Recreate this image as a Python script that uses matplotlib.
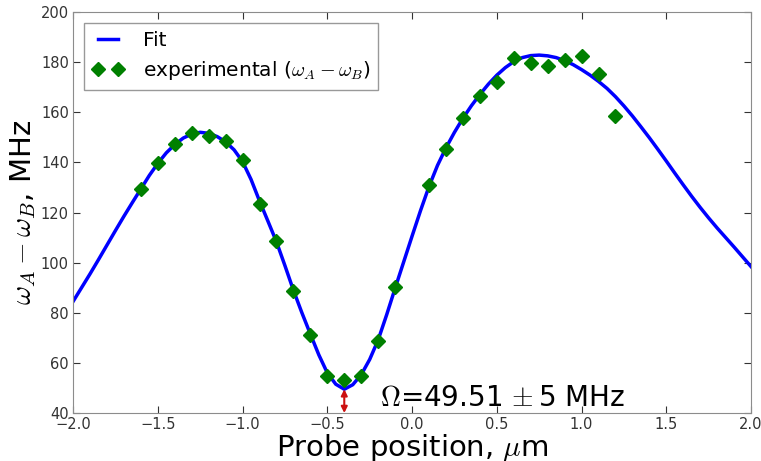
import numpy as np
import matplotlib
matplotlib.use("Agg")
import matplotlib.pyplot as plt

plt.rcParams["mathtext.fontset"] = "cm"
plt.rcParams["font.family"] = ["DejaVu Sans"]

# experimental points (probe position in um, omega_A - omega_B in MHz)
exp_x = [-1.6, -1.5, -1.4, -1.3, -1.2, -1.1, -1.0, -0.9, -0.8, -0.7, -0.6,
         -0.5, -0.4, -0.3, -0.2, -0.1, 0.1, 0.2, 0.3, 0.4, 0.5, 0.6, 0.7,
         0.8, 0.9, 1.0, 1.1, 1.2]
exp_y = [129.4, 139.9, 147.2, 151.6, 150.6, 148.4, 140.9, 123.4, 108.6, 88.8,
         71.1, 54.7, 53.2, 54.7, 68.8, 90.4, 131.0, 145.3, 157.8, 166.6,
         172.2, 181.5, 179.5, 178.3, 181.0, 182.6, 175.4, 158.6]

# fit curve, every 0.05 um
fit_x = np.round(np.linspace(-2.0, 2.0, 81), 2)
fit_y = [84.5, 90.0, 95.5, 101.2, 107.0, 112.8, 118.5, 124.0, 129.4, 134.8,
         139.6, 143.8, 147.1, 149.7, 151.3, 152.0, 151.6, 150.3, 148.2, 145.0,
         140.3, 133.2, 124.6, 116.5, 108.3, 98.8, 89.0, 80.0, 71.5, 63.2,
         56.0, 51.5, 49.5, 51.3, 55.3, 61.4, 69.2, 79.2, 89.8, 100.2,
         110.6, 120.8, 130.4, 138.8, 145.8, 152.0, 157.6, 162.6, 167.1, 171.2,
         174.8, 177.8, 180.2, 181.8, 182.6, 182.8, 182.5, 181.8, 180.6, 179.0,
         177.0, 174.8, 172.3, 169.5, 166.2, 162.5, 158.5, 154.2, 149.8, 145.2,
         140.5, 135.7, 131.0, 126.4, 122.0, 117.8, 113.8, 110.0, 106.2, 102.3,
         98.4]

omega_min = 49.51
min_pos = -0.4

fig = plt.figure(figsize=(7.61, 4.61), dpi=100)
ax = fig.add_axes([0.096, 0.104, 0.891, 0.870])

ax.plot(fit_x, fit_y, color="blue", lw=2.5, label="Fit")
ax.plot(exp_x, exp_y, "D", color="green", ms=7.5, ls="none",
        label=r"experimental ($\omega_A - \omega_B$)")

ax.annotate("", xy=(min_pos, 40), xytext=(min_pos, omega_min),
            arrowprops=dict(arrowstyle="<|-|>", color="#cc1111", lw=1.5,
                            mutation_scale=9, shrinkA=0, shrinkB=0))
ax.text(-0.19, 43, r"$\Omega$=49.51$\,\pm$5 MHz", fontsize=20)

ax.set_xlim(-2, 2)
ax.set_ylim(40, 200)
xt = np.arange(-2.0, 2.01, 0.5)
ax.set_xticks(xt)
ax.set_yticks(np.arange(40, 201, 20))
ax.set_xticklabels([f"{v:.1f}".replace("-", "\u2212") for v in xt])
ax.tick_params(direction="in", top=True, right=True, length=5, labelsize=10.5,
               colors="0.2", pad=3)
for s in ax.spines.values():
    s.set_color("0.55")

ax.set_xlabel(r"Probe position, $\mu$m", fontsize=21, labelpad=0)
ax.set_ylabel(r"$\omega_A - \omega_B$, MHz", fontsize=21, labelpad=2)

leg = ax.legend(loc="upper left", numpoints=2, fontsize=14.5, fancybox=False,
                borderaxespad=0.55, handlelength=1.6, handletextpad=0.9,
                labelspacing=0.45)
leg.get_frame().set_edgecolor("0.5")

fig.savefig("out.png", dpi=100)
